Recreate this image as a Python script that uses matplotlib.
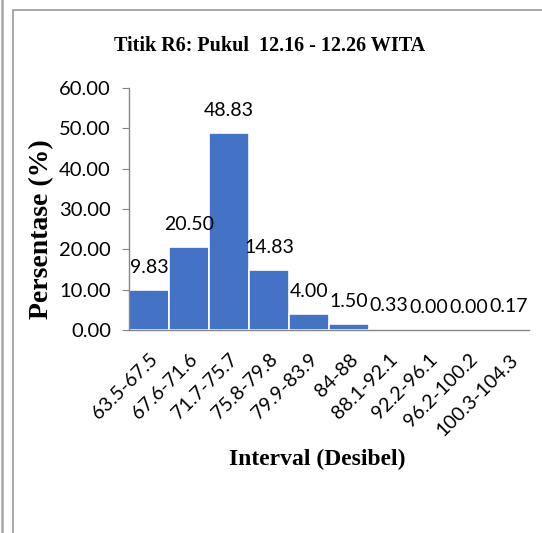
"""
Titik R6 - distribusi interval kebisingan
"""
import numpy as np
import matplotlib
matplotlib.use('Agg')
import matplotlib.pyplot as plt
from matplotlib.lines import Line2D

# data
intervals = ['63.5-67.5', '67.6-71.6', '71.7-75.7', '75.8-79.8', '79.9-83.9',
             '84-88', '88.1-92.1', '92.2-96.1', '96.2-100.2', '100.3-104.3']
persen = [9.83, 20.50, 48.83, 14.83, 4.00, 1.50, 0.33, 0.00, 0.00, 0.17]
y_ticks = [0, 10, 20, 30, 40, 50, 60]

W, H = 542, 533
fig = plt.figure(figsize=(W / 100, H / 100), dpi=100)
ax = fig.add_axes([129 / W, 1 - 330 / H, 400 / W, 242 / H])

x = np.arange(len(intervals))
ax.bar(x, persen, width=1.0, color='#4472C4', edgecolor='white', linewidth=1.2)

# label nilai di atas batang
for xi, v in zip(x, persen):
    ax.annotate(f'{v:.2f}', (xi, v), xytext=(0, 12.5), textcoords='offset points',
                ha='center', va='baseline', fontsize=14, family='Lato')

ax.set_xlim(-0.5, len(intervals) - 0.5)
ax.set_ylim(0, 60)
ax.set_yticks(y_ticks)
ax.set_yticklabels([f'{t:.2f}' for t in y_ticks], fontsize=14.5, family='Lato')
ax.set_xticks(x)
ax.set_xticklabels(intervals, rotation=45, ha='right', va='top',
                   rotation_mode='anchor', fontsize=14, family='Lato')

for s in ['top', 'right']:
    ax.spines[s].set_visible(False)
for s in ['left', 'bottom']:
    ax.spines[s].set_color('#868686')
    ax.spines[s].set_linewidth(1.0)
ax.tick_params(axis='y', length=5, color='#868686', pad=8)
ax.tick_params(axis='x', length=0, pad=15)

# judul dan label sumbu
fig.text(270 / W, 1 - 46 / H, 'Titik R6: Pukul  12.16 - 12.26 WITA', ha='center', va='center',
         fontsize=14.5, fontweight='bold', family='Liberation Serif')
fig.text(317 / W, 1 - 459 / H, 'Interval (Desibel)', ha='center', va='center',
         fontsize=17, fontweight='bold', family='Liberation Serif')
fig.text(42 / W, 1 - 229 / H, 'Persentase (%)', ha='center', va='center', rotation=90,
         fontsize=20, fontweight='bold', family='Liberation Serif')

# bingkai
fig.add_artist(Line2D([1.5 / W, 1.5 / W], [0, 1], color='#a6a6a6', lw=1.8))
fig.add_artist(Line2D([13 / W, 13 / W, 1], [0, 1 - 10 / H, 1 - 10 / H], color='#a0a0a0', lw=1.3))

fig.savefig('out.png', dpi=100)
